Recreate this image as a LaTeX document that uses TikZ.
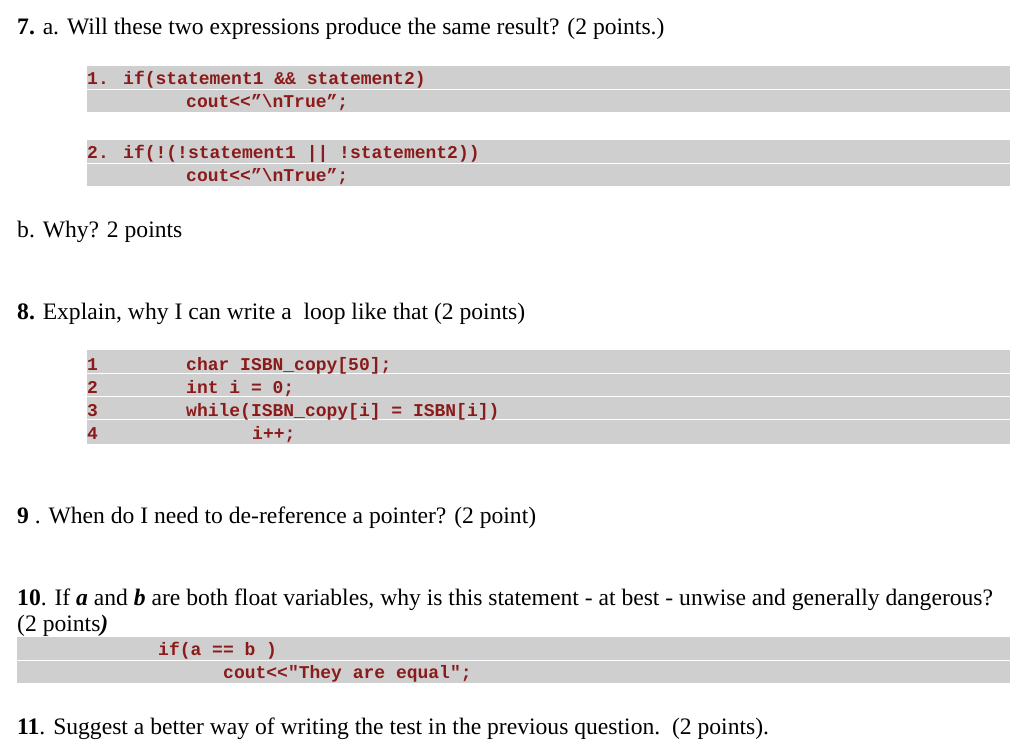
\documentclass[tikz,border=0pt]{standalone}
\usepackage{fontspec}
\setmainfont{Liberation Serif}
\newfontfamily\codefont{Liberation Mono}
\definecolor{codered}{HTML}{8B1A1A}
\definecolor{bargray}{HTML}{CFCFCF}
\begin{document}
\begin{tikzpicture}[x=1pt,y=-1pt,
  txt/.style={anchor=base west,inner sep=0pt,font=\fontsize{23.6}{26}\selectfont},
  code/.style={anchor=base west,inner sep=0pt,font=\codefont\bfseries\fontsize{18}{20}\selectfont,text=codered},
  bar/.style={fill=bargray,draw=none}]
\useasboundingbox (0,0) rectangle (1035,753);
\fill[white] (0,0) rectangle (1035,753);
% bars
\foreach \a/\b in {66/89,90/112,140/163,164/186,350/373,374/396,397/419,420/444}
  \path[bar] (87,\a) rectangle (1010,\b);
\foreach \a/\b in {637/660,661/683}
  \path[bar] (17,\a) rectangle (1010,\b);
\node[txt] (q7) at (17,34) {\textbf{7.} a. Will these two expressions produce the same result? (2 points.)};
\node[code] (c1) at (87,84) {1. if(statement1 \&\& statement2)};
\node[code] (c2) at (186,107) {cout<<”\textbackslash nTrue”;};
\node[code] (c3) at (87,158) {2. if(!(!statement1 || !statement2))};
\node[code] (c4) at (186,181) {cout<<”\textbackslash nTrue”;};
\node[txt] (qb) at (17,237) {b. Why? 2 points};
\node[txt] (q8) at (17,319) {\textbf{8.} Explain, why I can write a\ \ loop like that (2 points)};
\node[code] (n1) at (87,370) {1};
\node[code] (n2) at (87,393) {2};
\node[code] (n3) at (87,416) {3};
\node[code] (n4) at (87,439) {4};
\node[code] (l1) at (186,370) {char ISBN\_copy[50];};
\node[code] (l2) at (186,393) {int i = 0;};
\node[code] (l3) at (186,416) {while(ISBN\_copy[i] = ISBN[i])};
\node[code] (l4) at (252,439) {i++;};
\node[txt] (q9) at (17,523) {\textbf{9} . When do I need to de-reference a pointer? (2 point)};
\node[txt] (q10) at (17,605) {\textbf{10}. If \textbf{\textit{a}} and \textbf{\textit{b}} are both float variables, why is this statement - at best - unwise and generally dangerous?};
\node[txt] (q10b) at (17,631) {(2 points\textbf{\textit{)}}};
\node[code] (d1) at (158,655) {if(a == b )};
\node[code] (d2) at (223,678) {cout<<"They are equal";};
\node[txt] (q11) at (17,734) {\textbf{11}. Suggest a better way of writing the test in the previous question.\ \ (2 points).};
\end{tikzpicture}
\end{document}
